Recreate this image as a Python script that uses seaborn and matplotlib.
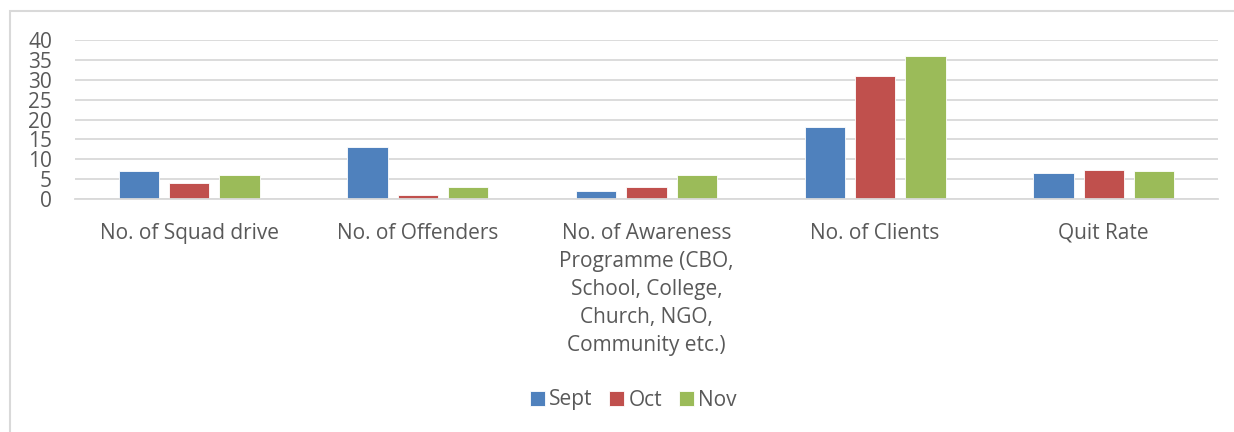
import pandas as pd
import matplotlib.pyplot as plt
import seaborn as sns
from matplotlib.patches import Rectangle

# ================== data ==================
CATEGORIES = [
    "No. of Squad drive",
    "No. of Offenders",
    "No. of Awareness\nProgramme (CBO,\nSchool, College,\nChurch, NGO,\nCommunity etc.)",
    "No. of Clients",
    "Quit Rate",
]
MONTHS = ["Sept", "Oct", "Nov"]
SEPT = [7, 13, 2, 18, 6.6]
OCT = [4, 1, 3, 31, 7.2]
NOV = [6, 3, 6, 36, 7.0]
COLORS = ["#4F81BD", "#C0504D", "#9BBB59"]
Y_TICKS = [0, 5, 10, 15, 20, 25, 30, 35, 40]
# ==========================================

TEXT_COLOR = "#595959"
GRID_COLOR = "#D9D9D9"
FS = 15


def build_frame():
    rows = []
    for month, vals in zip(MONTHS, [SEPT, OCT, NOV]):
        for cat, v in zip(CATEGORIES, vals):
            rows.append({"Category": cat, "Month": month, "Value": v})
    return pd.DataFrame(rows)


def main():
    df = build_frame()

    sns.set_theme(style="white")
    plt.rcParams["font.family"] = ["Open Sans", "DejaVu Sans"]

    fig = plt.figure(figsize=(12.34, 4.32), dpi=100)
    ax = fig.add_axes([75 / 1234, 1 - 199 / 432, (1218 - 75) / 1234, (199 - 40) / 432])

    sns.barplot(
        data=df, x="Category", y="Value", hue="Month",
        order=CATEGORIES, hue_order=MONTHS, palette=COLORS,
        width=0.66, gap=0.2, edgecolor="white", linewidth=0.6,
        saturation=1, legend=True, ax=ax,
    )

    ax.set_ylim(0, 40)
    ax.set_yticks(Y_TICKS)
    ax.yaxis.grid(True, color=GRID_COLOR, linewidth=1.3)
    ax.set_axisbelow(True)
    for side in ["top", "right", "left"]:
        ax.spines[side].set_visible(False)
    ax.spines["bottom"].set_color(GRID_COLOR)
    ax.spines["bottom"].set_linewidth(1.3)
    ax.tick_params(axis="both", length=0, labelsize=FS, colors=TEXT_COLOR)
    ax.tick_params(axis="x", pad=17)
    ax.tick_params(axis="y", pad=16.5)
    for lbl in ax.get_xticklabels():
        lbl.set_linespacing(1.45)
    ax.set_xlabel("")
    ax.set_ylabel("")

    handles, labels = ax.get_legend_handles_labels()
    ax.legend_.remove()
    fig.legend(
        handles, labels, loc="center", bbox_to_anchor=(633 / 1234, 1 - 400 / 432),
        ncol=3, frameon=False, fontsize=FS, labelcolor=TEXT_COLOR,
        handlelength=0.72, handleheight=0.72, handletextpad=0.2, columnspacing=0.8,
    )

    # chart frame
    fig.patches.append(Rectangle(
        (10 / 1234, -0.05), 1.2, 1 - 11 / 432 + 0.05,
        transform=fig.transFigure, fill=False, edgecolor=GRID_COLOR, linewidth=1.5,
    ))

    fig.savefig("out.png", dpi=100)


if __name__ == "__main__":
    main()
